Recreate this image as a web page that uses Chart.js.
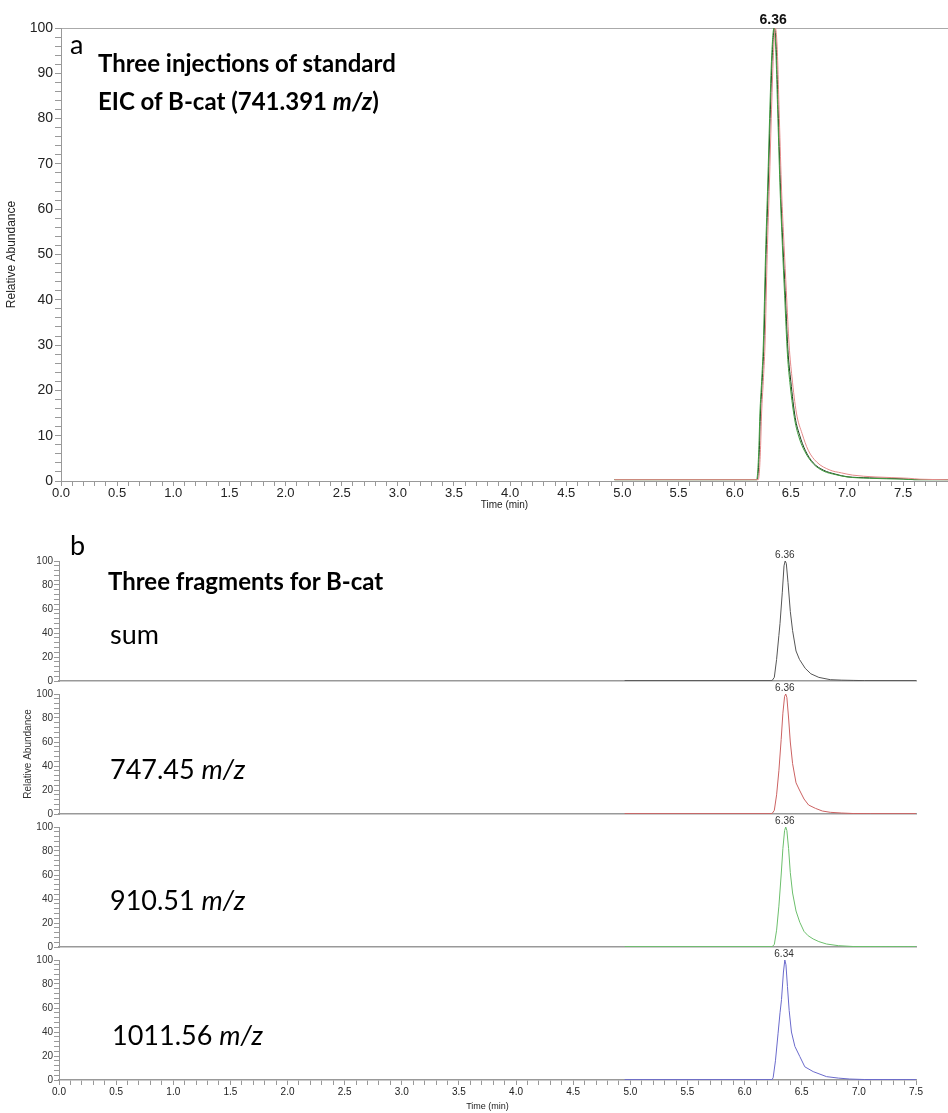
<!DOCTYPE html>
<html>
<head>
<meta charset="utf-8">
<script src="https://cdn.jsdelivr.net/npm/chart.js@4/dist/chart.umd.min.js"></script>
<style>
  body { margin: 0; background: #fff; }
  #page { position: relative; width: 948px; height: 1113px; overflow: hidden; font-family: Lato, "Open Sans", sans-serif; color: #000; }
  canvas { position: absolute; left: 0; }
  .note { position: absolute; line-height: 1; white-space: nowrap; transform: translateY(-50%); }
  .big { font-size: 24px; font-weight: bold; }
  .lbl { font-size: 27px; }
</style>
</head>
<body>
<div id="page">
  <canvas id="chartA" width="948" height="513" style="top:0"></canvas>
  <canvas id="chartB0" width="948" height="143" style="top:548px"></canvas>
  <canvas id="chartB1" width="948" height="143" style="top:681px"></canvas>
  <canvas id="chartB2" width="948" height="143" style="top:814px"></canvas>
  <canvas id="chartB3" width="948" height="166" style="top:947px"></canvas>

  <div class="note lbl" style="left:70px; top:43px">a</div>
  <div class="note big" style="left:98px; top:63px">Three injections of standard</div>
  <div class="note big" style="left:98px; top:101px">EIC of B-cat (741.391 <i>m/z</i>)</div>

  <div class="note lbl" style="left:70px; top:544px">b</div>
  <div class="note big" style="left:108px; top:581px">Three fragments for B-cat</div>
  <div class="note lbl" style="left:110px; top:633px">sum</div>
  <div class="note lbl" style="left:110px; top:768px">747.45 <i>m/z</i></div>
  <div class="note lbl" style="left:110px; top:899px">910.51 <i>m/z</i></div>
  <div class="note lbl" style="left:112px; top:1034px">1011.56 <i>m/z</i></div>
</div>

<script>
// ---- panel a: three injections of standard, EIC 741.391 ----
const timeInjBlack = [4.93, 6.20, 6.21, 6.22, 6.23, 6.245, 6.26, 6.28, 6.30, 6.316, 6.335, 6.355, 6.37, 6.39, 6.41, 6.43, 6.45, 6.474, 6.50, 6.539, 6.58, 6.628, 6.70, 6.79, 6.90, 7.00, 7.20, 7.50, 7.60, 7.90];
const injBlack     = [0.3, 0.3, 2, 7, 15, 22, 30, 50, 66, 80, 94, 100, 96, 80, 64, 52, 42, 29, 22, 14, 10, 6.8, 4, 2.4, 1.5, 0.95, 0.7, 0.5, 0.3, 0.3];

const timeInjRed = [4.93, 6.21, 6.22, 6.23, 6.24, 6.255, 6.27, 6.29, 6.31, 6.326, 6.345, 6.362, 6.378, 6.398, 6.418, 6.44, 6.46, 6.485, 6.51, 6.55, 6.60, 6.655, 6.73, 6.85, 6.95, 7.05, 7.25, 7.55, 7.65, 7.90];
const injRed     = [0.3, 0.3, 2, 7, 15, 22, 30, 50, 66, 80, 94, 100, 96, 80, 64, 52, 42, 30, 23, 15, 10.5, 6.8, 4.2, 2.4, 1.8, 1.3, 0.9, 0.6, 0.4, 0.3];

const timeInjGreen = [4.93, 6.195, 6.205, 6.215, 6.225, 6.24, 6.255, 6.275, 6.295, 6.311, 6.33, 6.35, 6.365, 6.385, 6.405, 6.425, 6.445, 6.47, 6.495, 6.535, 6.575, 6.625, 6.70, 6.79, 6.90, 7.00, 7.20, 7.50, 7.60, 7.90];
const injGreen     = [0.3, 0.3, 2, 7, 15, 22, 30, 50, 66, 80, 94, 100, 96, 80, 64, 52, 41, 28, 21, 13.5, 9.5, 6.5, 3.8, 2.2, 1.4, 0.9, 0.6, 0.4, 0.3, 0.3];

// ---- panel b: three fragments ----
const timeSum = [4.95, 6.24, 6.26, 6.28, 6.30, 6.31, 6.33, 6.345, 6.355, 6.365, 6.38, 6.40, 6.42, 6.45, 6.48, 6.53, 6.58, 6.65, 6.75, 6.85, 6.95, 7.05, 7.50];
const fragSum = [0.3, 0.3, 3, 18, 38, 48, 74, 96, 100, 98, 82, 58, 42, 25, 18, 10.6, 6, 3, 1.1, 0.7, 0.5, 0.3, 0.3];

const time747 = [4.95, 6.24, 6.26, 6.28, 6.30, 6.32, 6.335, 6.35, 6.36, 6.37, 6.385, 6.40, 6.42, 6.45, 6.48, 6.52, 6.56, 6.62, 6.68, 6.75, 6.85, 6.95, 7.10, 7.50];
const frag747 = [0.3, 0.3, 3, 16, 36, 62, 84, 98, 100, 97, 80, 60, 42, 26, 20, 12.5, 7.5, 4.7, 2.5, 1.4, 0.8, 0.4, 0.3, 0.3];

const time910 = [4.95, 6.24, 6.26, 6.28, 6.30, 6.32, 6.335, 6.35, 6.36, 6.37, 6.385, 6.40, 6.42, 6.45, 6.483, 6.52, 6.556, 6.60, 6.65, 6.717, 6.82, 6.95, 7.50];
const frag910 = [0.3, 0.3, 2, 14, 34, 60, 82, 97, 100, 97, 82, 62, 45, 30, 20.6, 13, 9.4, 6.7, 4.5, 2.5, 1.1, 0.4, 0.3];

const time1011 = [4.95, 6.24, 6.25, 6.27, 6.293, 6.31, 6.323, 6.34, 6.352, 6.362, 6.375, 6.39, 6.41, 6.44, 6.483, 6.527, 6.60, 6.717, 6.82, 6.92, 7.05, 7.50];
const frag1011 = [0.3, 0.3, 2, 16, 39, 56, 67, 90, 100, 96, 78, 58, 40, 28, 19.6, 11, 7, 2.8, 1.6, 0.8, 0.4, 0.3];

// peak labels (retention time shown above each apex)
const peakTimes  = [6.343, 6.352, 6.352, 6.352, 6.345];
const peakLabels = ['6.36', '6.36', '6.36', '6.36', '6.34'];

const axisGray = '#999';
const tickText = '#222';
const font = 'Liberation Sans';

function steps(from, to, step) {
  const out = [];
  for (let i = 0; from + i * step <= to + 1e-9; i++) out.push(Math.round((from + i * step) * 100) / 100);
  return out;
}

function toPoints(t, v) {
  return t.map((x, i) => ({ x: x, y: v[i] }));
}

// draws the retention-time text above the 100 % level
const peakLabel = {
  id: 'peakLabel',
  afterDatasetsDraw(chart, args, opts) {
    if (!opts.text) return;
    const ctx = chart.ctx;
    const x = chart.scales.x.getPixelForValue(opts.time);
    const y = chart.scales.y.getPixelForValue(100);
    ctx.save();
    ctx.font = opts.font;
    ctx.fillStyle = opts.color;
    ctx.textAlign = 'center';
    ctx.textBaseline = 'bottom';
    ctx.fillText(opts.text, x, y - 1);
    ctx.restore();
  }
};

// ---------- chart a ----------
new Chart(document.getElementById('chartA'), {
  type: 'line',
  data: {
    datasets: [
      { data: toPoints(timeInjRed, injRed), borderColor: '#e58a8a', borderWidth: 1 },
      { data: toPoints(timeInjGreen, injGreen), borderColor: '#3c9a3c', borderWidth: 1 },
      { data: toPoints(timeInjBlack, injBlack), borderColor: '#1a3a1a', borderWidth: 1 }
    ]
  },
  options: {
    responsive: false,
    animation: false,
    layout: { padding: { top: 28, right: 0, left: 0, bottom: 0 } },
    elements: { point: { radius: 0 }, line: { cubicInterpolationMode: 'monotone' } },
    plugins: {
      legend: { display: false },
      tooltip: { enabled: false },
      peakLabel: { text: peakLabels[0], time: peakTimes[0], font: 'bold 14px ' + font, color: '#111' }
    },
    scales: {
      x: {
        type: 'linear',
        min: 0,
        max: 7.9,
        afterBuildTicks: s => { s.ticks = steps(0, 7.9, 0.1).map(v => ({ value: v })); },
        afterFit: s => { s.height = 32; s.paddingLeft = 0; s.paddingRight = 0; },
        ticks: {
          autoSkip: false, maxRotation: 0, minRotation: 0, padding: 0,
          color: tickText, font: { family: font, size: 13 },
          callback: v => Math.round(v * 10) % 5 === 0 ? v.toFixed(1) : ''
        },
        grid: { drawOnChartArea: false, tickLength: 5, tickColor: axisGray },
        border: { color: axisGray },
        title: { display: true, text: 'Time (min)', color: tickText, font: { family: font, size: 10 }, padding: { top: 0, bottom: 2 } }
      },
      y: {
        min: 0,
        max: 100,
        afterBuildTicks: s => { s.ticks = steps(0, 100, 2).map(v => ({ value: v })); },
        afterFit: s => { s.width = 61; s.paddingTop = 0; s.paddingBottom = 0; },
        ticks: {
          autoSkip: false, padding: 2,
          color: tickText, font: { family: font, size: 14 },
          callback: v => v % 10 === 0 ? v : ''
        },
        grid: {
          tickLength: 6, tickColor: axisGray,
          color: c => (c.tick && c.tick.value === 100) ? '#aaa' : 'rgba(0,0,0,0)'
        },
        border: { color: axisGray },
        title: { display: true, text: 'Relative Abundance', color: tickText, font: { family: font, size: 12 }, padding: { top: 4, bottom: 0 } }
      }
    }
  },
  plugins: [peakLabel]
});

// ---------- chart b: four stacked panels ----------
const panels = [
  { id: 'chartB0', t: timeSum, v: fragSum, color: '#555555' },
  { id: 'chartB1', t: time747, v: frag747, color: '#cc6262', yTitle: 'Relative Abundance' },
  { id: 'chartB2', t: time910, v: frag910, color: '#6cbf6c' },
  { id: 'chartB3', t: time1011, v: frag1011, color: '#6a6acc', last: true }
];

panels.forEach((p, i) => {
  new Chart(document.getElementById(p.id), {
    type: 'line',
    data: { datasets: [{ data: toPoints(p.t, p.v), borderColor: p.color, borderWidth: 1 }] },
    options: {
      responsive: false,
      animation: false,
      layout: { padding: { top: 13, right: 32, left: 0, bottom: 0 } },
      elements: { point: { radius: 0 }, line: { tension: 0 } },
      plugins: {
        legend: { display: false },
        tooltip: { enabled: false },
        peakLabel: { text: peakLabels[i + 1], time: peakTimes[i + 1], font: '10px ' + font, color: '#333' }
      },
      scales: {
        x: {
          type: 'linear',
          min: 0,
          max: 7.5,
          afterBuildTicks: s => { s.ticks = steps(0, 7.5, 0.1).map(v => ({ value: v })); },
          afterFit: s => { s.height = p.last ? 33 : 10; s.paddingLeft = 0; s.paddingRight = 0; },
          ticks: {
            display: !!p.last,
            autoSkip: false, maxRotation: 0, minRotation: 0, padding: 1,
            color: tickText, font: { family: font, size: 10 },
            callback: v => Math.round(v * 10) % 5 === 0 ? v.toFixed(1) : ''
          },
          grid: { drawOnChartArea: false, drawTicks: !!p.last, tickLength: 5, tickColor: axisGray },
          border: { color: axisGray, width: 1.5 },
          title: { display: !!p.last, text: 'Time (min)', color: tickText, font: { family: font, size: 9 }, padding: { top: 0, bottom: 1 } }
        },
        y: {
          min: 0,
          max: 100,
          afterBuildTicks: s => { s.ticks = steps(0, 100, 4).map(v => ({ value: v })); },
          afterFit: s => { s.width = 59; s.paddingTop = 0; s.paddingBottom = 0; },
          ticks: {
            autoSkip: false, padding: 1,
            color: '#333', font: { family: font, size: 10 },
            callback: v => v % 20 === 0 ? v : ''
          },
          grid: { drawOnChartArea: false, tickLength: 5, tickColor: axisGray },
          border: { color: axisGray },
          title: { display: !!p.yTitle, text: p.yTitle || '', color: '#333', font: { family: font, size: 10 }, padding: { top: 22, bottom: 0 } }
        }
      }
    },
    plugins: [peakLabel]
  });
});
</script>
</body>
</html>
